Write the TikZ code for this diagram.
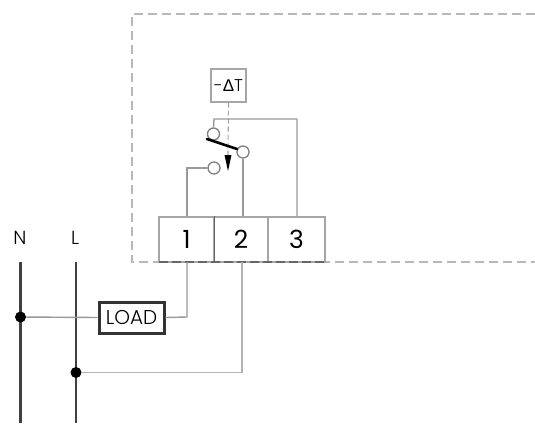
\documentclass[tikz,border=0pt]{standalone}
\usepackage{fontspec}
\setmainfont{Poppins}[UprightFont=* Light]
\newfontfamily\digitfont{Poppins}
\newfontfamily\deltafont{Liberation Sans}
\begin{document}
\begin{tikzpicture}[x=1pt,y=-1pt,
  wire/.style={draw=black!40,line width=1.4pt},
  bus/.style={draw=black!75,line width=2.8pt},
  cbox/.style={draw=black!35,line width=1.1pt,fill=white,minimum width=#1,minimum height=45pt,inner sep=0pt,font=\digitfont\fontsize{25}{25}\selectfont},
  contact/.style={circle,draw=black!50,line width=1.3pt,fill=white,minimum size=12pt,inner sep=0pt},
  jdot/.style={circle,fill=black,minimum size=11pt,inner sep=0pt},
  lbl/.style={font=\fontsize{19}{19}\selectfont,inner sep=0pt}]
\useasboundingbox (0,0) rectangle (535,423);
\draw[draw=black!28,line width=1.6pt,dash pattern=on 9pt off 5pt] (535,14) -- (132,14) -- (132,262) -- (535,262);
% terminals
\node[cbox=55pt] (t1) at (186.5,239.5) {1};
\node[cbox=54pt] (t2) at (241,239.5) {2};
\node[cbox=57pt] (t3) at (296.5,239.5) {3};
\draw[black!60,line width=1.3pt] (t1.north east) -- (t1.south east);
\draw[black!60,line width=1.5pt,dash pattern=on 9pt off 4pt] (159,262) -- (325,262);
% sensor
\node[draw=black!35,line width=1.2pt,fill=white,minimum width=35pt,minimum height=33pt,inner sep=0pt,font=\fontsize{17}{17}\selectfont] (dt) at (228.5,85.5) {-{\deltafont Δ}T};
\coordinate (arrowtop) at (228,155);
\draw[draw=black!35,line width=1.1pt,dash pattern=on 5pt off 3pt] (dt.south) -- (arrowtop);
% contacts
\coordinate (k1) at (214,119);
\coordinate (k3) at (297,119);
\coordinate (k5) at (187,168);
\node[contact] (c1) at (213.5,134) {};
\node[contact] (c2) at (243,152) {};
\node[contact] (c3) at (214,168) {};
\draw[wire] (c1.north) -- (k1) -- (k3) -- (k3 |- t3.north);
\draw[wire] (c2.south) -- (c2.south |- t2.north);
\draw[wire] (c3.west) -- (k5) -- (t1.north -| k5);
\draw[black,line width=2.6pt,line cap=round] (207,139) -- (237,149);
\fill[black] (224.5,155) -- (231.5,155) -- (228,171) -- cycle;
% buses
\coordinate (na) at (20.5,262); \coordinate (nb) at (20.5,423);
\coordinate (la) at (76,262); \coordinate (lb) at (76,423);
\draw[bus] (na) -- (nb);
\draw[bus] (la) -- (lb);
\node[lbl] (n) at (20,238) {N};
\node[lbl] (l) at (75,238) {L};
\node[jdot] (jn) at (20.5,317) {};
\node[jdot] (jl) at (76,372.5) {};
% load
\node[draw=black!80,line width=3pt,fill=white,minimum width=65pt,minimum height=31pt,inner sep=0pt,font=\fontsize{20}{20}\selectfont] (load) at (131.5,317.5) {LOAD};
\coordinate (k6) at (187,317);
\coordinate (k7) at (187,262);
\coordinate (k8) at (242,372.5);
\coordinate (k9) at (242,262);
\draw[wire] (jn) -- (load.west);
\draw[wire] (load.east) -- (k6) -- (k7);
\draw[draw=black!30,line width=1.5pt] (jl) -- (k8) -- (k9);
\end{tikzpicture}
\end{document}
